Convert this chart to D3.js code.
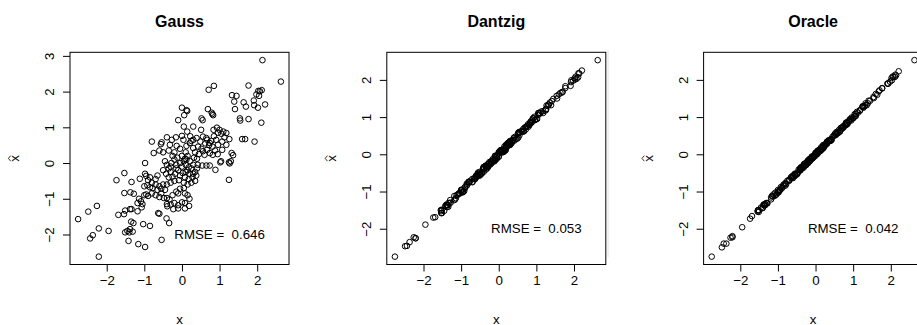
<!DOCTYPE html>
<html>
<head>
<meta charset="utf-8">
<script src="https://cdn.jsdelivr.net/npm/d3@7"></script>
<style>
body { margin: 0; background: #fff; }
svg { display: block; font-family: "Liberation Sans", Arial, sans-serif; }
</style>
</head>
<body>
<div id="chart"></div>
<script>

// true x values (same for all three panels)
var xTrue = [2.14,2.63,1.77,2.03,2.12,2.07,1.98,2.05,1.91,1.92,2.02,2.21,1.64,1.70,1.77,2.11,1.33,1.45,1.39,1.41,
  1.54,1.55,1.60,1.68,1.93,1.25,1.30,1.27,1.25,1.32,1.36,1.26,0.71,0.85,0.00,0.14,0.12,0.06,-0.10,0.05,
  0.69,0.79,0.83,0.81,0.52,0.55,0.30,0.51,0.14,0.84,0.93,1.00,1.10,1.18,1.05,0.96,0.39,0.43,0.49,0.56,
  0.65,0.67,0.74,0.81,0.91,0.96,1.07,1.07,1.18,0.60,0.56,0.67,0.74,0.82,0.54,0.65,0.74,0.89,1.02,1.04,
  0.78,0.72,0.62,0.88,0.95,0.45,0.35,0.40,0.52,1.13,0.85,0.30,0.25,0.22,-0.80,-0.54,-0.56,-0.75,-0.40,-0.27,
  -0.16,0.00,-0.32,-0.14,0.04,0.12,0.21,0.30,-0.50,-0.60,-0.35,-0.20,0.10,-0.05,0.15,-0.45,-0.40,-0.35,-0.30,-0.42,
  -0.50,-0.28,-0.20,-0.15,-0.10,-0.18,-0.25,-0.35,-0.05,0.00,0.05,0.10,0.15,0.20,0.25,0.30,0.35,0.28,0.18,0.08,
  0.02,-0.08,-0.20,0.12,0.22,0.32,0.38,0.40,-0.12,0.00,0.05,0.15,0.25,-0.30,-0.40,0.35,-0.25,0.08,0.18,-0.05,
  -0.30,0.42,0.10,-0.15,0.30,-0.98,-1.53,-1.74,-1.34,-1.12,-0.98,-0.95,-0.85,-0.90,-0.80,-0.70,-0.65,-1.00,-0.92,-0.85,
  -0.78,-1.53,-1.37,-1.28,-1.18,-1.14,-1.09,-1.00,-0.95,-0.90,-0.80,-0.70,-1.05,-0.60,-0.55,-0.50,-0.65,-0.70,-0.45,-0.55,
  -0.60,-0.48,-0.40,-0.33,-0.40,-0.30,-0.20,-0.10,0.00,0.08,0.20,-0.10,-0.05,-0.15,0.05,0.15,0.08,-0.25,-2.76,-2.49,
  -2.26,-2.21,-2.37,-2.44,-1.95,-2.21,-1.69,-1.54,-1.51,-1.38,-1.34,-1.18,-1.07,-1.35,-1.29,-1.38,-1.31,-1.40,-1.45,-1.51,
  -1.42,-1.16,-0.98,-1.03,-0.85,-0.63,-0.60,-0.41,-0.34,-0.54,-0.39,-0.23,-0.10,0.08,0.19];

var gaussY = [2.88,2.28,2.17,2.02,2.04,2.01,1.92,1.88,1.75,1.62,1.55,1.64,1.70,1.58,1.23,1.13,1.90,1.88,1.72,1.51,
  1.25,1.19,0.67,0.67,0.60,0.02,0.05,-0.01,-0.47,0.28,0.22,0.67,2.05,2.16,1.55,1.46,1.48,1.34,1.20,1.02,
  1.51,1.41,1.34,1.37,1.25,1.20,1.02,0.93,0.88,0.93,0.99,0.93,0.88,0.84,0.82,0.85,0.70,0.46,0.60,0.74,
  0.70,0.65,0.56,0.46,0.65,0.51,0.60,0.37,0.51,0.23,0.33,0.37,0.28,0.23,-0.07,-0.07,-0.07,-0.19,0.02,0.05,
  0.62,0.50,0.55,0.35,0.25,0.25,0.30,0.12,0.40,0.72,0.75,0.42,0.62,0.75,0.60,0.58,0.53,0.28,0.72,0.65,
  0.72,0.76,0.51,0.48,0.65,0.48,0.56,0.65,0.30,0.35,0.35,0.30,0.30,0.40,0.20,0.05,-0.05,-0.15,-0.25,-0.30,
  -0.20,0.00,0.10,-0.05,-0.20,-0.30,-0.38,-0.40,-0.35,-0.10,0.05,-0.05,-0.20,-0.30,-0.15,-0.05,-0.25,-0.40,-0.45,-0.40,
  -0.28,-0.48,-0.50,0.10,0.05,0.15,-0.35,-0.15,0.15,0.20,-0.55,-0.60,-0.55,-0.55,-0.60,-0.50,0.20,0.12,-0.12,0.00,
  -0.10,-0.05,-0.25,-0.15,-0.30,0.00,-0.28,-0.48,-0.53,-0.44,-0.30,-0.36,-0.40,-0.48,-0.55,-0.45,-0.35,-0.65,-0.62,-0.68,
  -0.70,-0.84,-0.82,-0.86,-1.12,-1.00,-1.07,-0.90,-0.88,-0.92,-0.85,-0.90,-1.15,-0.65,-0.72,-0.60,-0.75,-0.60,-0.75,-0.85,
  -0.95,-0.98,-0.98,-1.02,-1.15,-1.16,-1.12,-1.18,-1.10,-1.12,-1.00,-0.85,-0.72,-0.80,-0.70,-0.90,-0.85,-0.90,-1.57,-1.36,
  -1.20,-1.83,-2.02,-2.11,-1.90,-2.62,-1.45,-1.43,-1.33,-1.29,-1.29,-1.35,-1.24,-1.64,-1.68,-1.85,-1.92,-1.94,-1.90,-1.94,
  -2.18,-2.27,-2.35,-1.71,-1.76,-1.40,-1.42,-1.55,-1.68,-2.15,-1.21,-1.29,-1.27,-1.27,-1.20];

var dantzigY = [2.17,2.53,1.78,2.01,2.18,2.03,1.98,2.09,1.84,1.94,2.05,2.25,1.65,1.68,1.83,2.07,1.33,1.49,1.32,1.43,
  1.57,1.50,1.61,1.66,1.99,1.21,1.30,1.31,1.18,1.34,1.39,1.21,0.72,0.83,0.06,0.10,0.12,0.10,-0.17,0.07,
  0.72,0.74,0.84,0.79,0.58,0.51,0.30,0.55,0.07,0.86,0.96,0.95,1.11,1.16,1.11,0.92,0.39,0.47,0.42,0.58,
  0.68,0.62,0.75,0.79,0.97,0.92,1.07,1.11,1.11,0.62,0.59,0.62,0.75,0.80,0.60,0.61,0.74,0.93,0.95,1.06,
  0.81,0.67,0.63,0.86,1.01,0.41,0.35,0.44,0.45,1.15,0.88,0.25,0.26,0.20,-0.74,-0.58,-0.56,-0.71,-0.47,-0.25,
  -0.13,-0.05,-0.31,-0.16,0.10,0.08,0.21,0.34,-0.57,-0.58,-0.32,-0.25,0.11,-0.07,0.21,-0.49,-0.40,-0.31,-0.37,-0.40,
  -0.47,-0.33,-0.19,-0.17,-0.04,-0.22,-0.25,-0.31,-0.12,0.02,0.08,0.05,0.16,0.18,0.31,0.26,0.35,0.32,0.11,0.10,
  0.05,-0.13,-0.19,0.10,0.28,0.28,0.38,0.44,-0.19,0.02,0.08,0.10,0.26,-0.32,-0.34,0.31,-0.25,0.12,0.11,-0.03,
  -0.27,0.37,0.11,-0.17,0.36,-1.02,-1.53,-1.70,-1.41,-1.10,-0.95,-1.00,-0.84,-0.92,-0.74,-0.74,-0.65,-0.96,-0.99,-0.83,
  -0.75,-1.58,-1.36,-1.30,-1.12,-1.18,-1.09,-0.96,-1.02,-0.88,-0.77,-0.75,-1.04,-0.62,-0.49,-0.54,-0.65,-0.66,-0.52,-0.53,
  -0.57,-0.53,-0.39,-0.35,-0.34,-0.34,-0.20,-0.06,-0.07,0.10,0.23,-0.15,-0.04,-0.17,0.11,0.11,0.08,-0.21,-2.75,-2.47,
  -2.23,-2.26,-2.36,-2.46,-1.89,-2.25,-1.69,-1.50,-1.58,-1.36,-1.31,-1.23,-1.06,-1.37,-1.23,-1.42,-1.31,-1.36,-1.52,-1.49,
  -1.39,-1.21,-0.97,-1.05,-0.79,-0.67,-0.60,-0.37,-0.41,-0.52,-0.36,-0.28,-0.09,0.06,0.25];

var oracleY = [2.12,2.53,1.77,1.99,2.14,2.08,1.95,2.09,1.90,1.90,2.05,2.23,1.60,1.72,1.78,2.08,1.37,1.44,1.37,1.44,
  1.54,1.51,1.62,1.69,1.90,1.29,1.29,1.25,1.28,1.32,1.32,1.28,0.72,0.82,0.04,0.13,0.10,0.09,-0.10,0.01,
  0.71,0.80,0.80,0.85,0.51,0.53,0.33,0.51,0.10,0.86,0.94,0.97,1.14,1.17,1.03,0.99,0.39,0.39,0.51,0.57,
  0.62,0.71,0.73,0.79,0.94,0.96,1.03,1.09,1.19,0.57,0.60,0.66,0.72,0.85,0.54,0.61,0.76,0.90,0.99,1.08,
  0.77,0.70,0.65,0.88,0.91,0.47,0.36,0.37,0.56,1.12,0.83,0.33,0.25,0.18,-0.78,-0.53,-0.59,-0.71,-0.41,-0.29,
  -0.13,0.00,-0.36,-0.12,0.05,0.09,0.25,0.29,-0.52,-0.57,-0.35,-0.24,0.12,-0.04,0.12,-0.41,-0.41,-0.37,-0.27,-0.42,
  -0.54,-0.26,-0.19,-0.18,-0.06,-0.19,-0.27,-0.32,-0.05,-0.04,0.07,0.11,0.12,0.24,0.24,0.28,0.38,0.28,0.14,0.10,
  0.03,-0.11,-0.16,0.11,0.20,0.35,0.38,0.36,-0.10,0.01,0.02,0.19,0.24,-0.32,-0.37,0.35,-0.29,0.10,0.19,-0.08,
  -0.26,0.41,0.08,-0.12,0.30,-1.02,-1.51,-1.73,-1.37,-1.08,-0.99,-0.97,-0.82,-0.90,-0.84,-0.68,-0.64,-1.03,-0.88,-0.86,
  -0.80,-1.50,-1.37,-1.32,-1.16,-1.13,-1.12,-0.96,-0.96,-0.92,-0.77,-0.70,-1.09,-0.58,-0.54,-0.53,-0.61,-0.71,-0.47,-0.52,
  -0.60,-0.52,-0.38,-0.32,-0.43,-0.26,-0.21,-0.12,0.03,0.08,0.16,-0.08,-0.04,-0.18,0.09,0.14,0.06,-0.22,-2.75,-2.50,
  -2.24,-2.20,-2.40,-2.40,-1.96,-2.23,-1.66,-1.54,-1.55,-1.36,-1.33,-1.21,-1.03,-1.36,-1.31,-1.35,-1.31,-1.44,-1.43,-1.50,
  -1.45,-1.12,-0.99,-1.05,-0.82,-0.63,-0.64,-0.39,-0.33,-0.57,-0.35,-0.24,-0.12,0.11,0.19];

var panelTitles = ["Gauss", "Dantzig", "Oracle"];
var rmseValues = ["0.646", "0.053", "0.042"];
var xTicks = [-2, -1, 0, 1, 2];
var gaussTicks = [-2, -1, 0, 1, 2, 3];
var lineTicks = [-2, -1, 0, 1, 2];

var w = 917;
var h = 325;
var panelStep = 316.8;
var boxLeft = 70;
var boxTop = 52.3;
var boxW = 219;
var boxH = 212.2;
var fontSize = 13.3;
var fmt = d3.format("d");

var svg = d3.select("#chart")
            .append("svg")
            .attr("width", w)
            .attr("height", h);

// R style range: data range widened by 4% each side
function rRange(v) {
  var lo = d3.min(v), hi = d3.max(v), r = hi - lo;
  return [lo - 0.04 * r, hi + 0.04 * r];
}

function drawPanel(i, yVals, yTicks) {
  var left = boxLeft + i * panelStep;
  var x = d3.scaleLinear().domain(rRange(xTrue)).range([left, left + boxW]);
  var y = d3.scaleLinear().domain(rRange(yVals)).range([boxTop + boxH, boxTop]);
  var pts = xTrue.map(function(d, k) { return [d, yVals[k]]; });

  var g = svg.append("g");

  g.selectAll("circle")
    .data(pts)
    .enter()
    .append("circle")
    .attr("cx", function(d) { return x(d[0]); })
    .attr("cy", function(d) { return y(d[1]); })
    .attr("r", 2.8)
    .attr("fill", "none")
    .attr("stroke", "#000")
    .attr("stroke-width", 1);

  g.append("rect")
    .attr("x", left)
    .attr("y", boxTop)
    .attr("width", boxW)
    .attr("height", boxH)
    .attr("fill", "none")
    .attr("stroke", "#000")
    .attr("stroke-width", 1);

  var xa = g.append("g")
    .attr("transform", "translate(0," + (boxTop + boxH) + ")")
    .call(d3.axisBottom(x).tickValues(xTicks).tickFormat(fmt).tickSize(7).tickSizeOuter(0).tickPadding(4.5));
  xa.select(".domain").remove();
  xa.selectAll("text").attr("font-size", fontSize).attr("font-family", null).attr("fill", "#000");

  var ya = g.append("g")
    .attr("transform", "translate(" + left + ",0)")
    .call(d3.axisLeft(y).tickValues(yTicks).tickFormat(fmt).tickSize(7).tickSizeOuter(0));
  ya.select(".domain").remove();
  ya.selectAll("text")
    .attr("x", null)
    .attr("dy", null)
    .attr("text-anchor", "middle")
    .attr("transform", "translate(-16,0) rotate(-90)")
    .attr("font-size", fontSize)
    .attr("font-family", null)
    .attr("fill", "#000");

  var cx = left + boxW / 2;

  g.append("text")
    .attr("x", cx)
    .attr("y", 26.5)
    .attr("text-anchor", "middle")
    .attr("font-weight", "bold")
    .attr("font-size", 16)
    .text(panelTitles[i]);

  g.append("text")
    .attr("x", cx)
    .attr("y", 323.5)
    .attr("text-anchor", "middle")
    .attr("font-size", fontSize)
    .text("x");

  // x-hat label on the left, rotated like R
  var yl = g.append("g")
    .attr("transform", "translate(" + (left - 51) + "," + (boxTop + boxH / 2) + ") rotate(-90)");
  yl.append("text")
    .attr("text-anchor", "middle")
    .attr("font-size", fontSize)
    .text("x");
  yl.append("path")
    .attr("d", "M-2.8,-8.3L0,-10.6L2.8,-8.3")
    .attr("fill", "none")
    .attr("stroke", "#000")
    .attr("stroke-width", 0.8);

  g.append("text")
    .attr("x", x(1))
    .attr("y", y(-2) + 4.7)
    .attr("text-anchor", "middle")
    .attr("font-size", fontSize)
    .style("white-space", "pre")
    .text("RMSE =  " + rmseValues[i]);
}

drawPanel(0, gaussY, gaussTicks);
drawPanel(1, dantzigY, lineTicks);
drawPanel(2, oracleY, lineTicks);

// faint seam line left of the third panel
svg.append("line")
  .attr("x1", 608).attr("x2", 608)
  .attr("y1", 50).attr("y2", 257)
  .attr("stroke", "#e2e2e2")
  .attr("stroke-width", 1);

</script>
</body>
</html>
